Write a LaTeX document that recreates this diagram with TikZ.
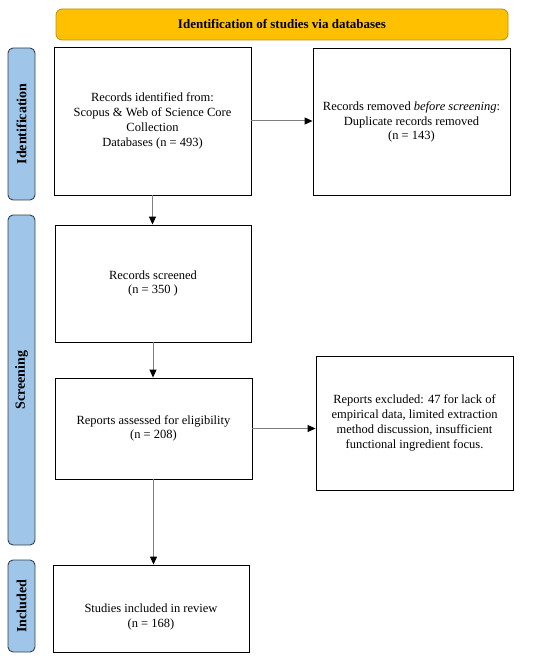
\documentclass[tikz,border=0pt]{standalone}
\usepackage{fontspec}
\setmainfont{Liberation Serif}
\usetikzlibrary{arrows.meta}
\definecolor{hdrfill}{HTML}{FFC000}
\definecolor{hdrdraw}{HTML}{B8900A}
\definecolor{tabfill}{HTML}{9FC5E8}
\definecolor{tabdraw}{HTML}{33414F}
\definecolor{arrgray}{HTML}{7F7F7F}
\begin{document}
\begin{tikzpicture}[x=1pt,y=-1pt,
  box/.style={draw=black, line width=0.9pt, fill=white, inner sep=0pt, align=center, font=\fontsize{12.5}{14.8}\selectfont},
  tab/.style={draw=tabdraw, line width=0.9pt, fill=tabfill, rounded corners=5pt, inner sep=0pt, minimum width=27pt},
  tabtext/.style={rotate=90, font=\bfseries\fontsize{14}{16}\selectfont},
  hdr/.style={draw=hdrdraw, line width=0.8pt, fill=hdrfill, rounded corners=6pt, inner sep=0pt, font=\bfseries\fontsize{13}{15}\selectfont},
  arr/.style={draw=arrgray, line width=1pt, -{Triangle[length=8pt,width=7pt,fill=black,color=black]}}
]
\useasboundingbox (0,0) rectangle (550,660);

% header
\node[hdr, minimum width=452pt, minimum height=31pt] (hdr) at (282,24.5) {Identification of studies via databases};

% side tabs
\node[tab, minimum height=152pt] (tid) at (21.5,124) {};
\node[tabtext] (tidt) at (tid.center) {Identification};
\node[tab, minimum height=330pt] (tsc) at (21.5,380) {};
\node[tabtext] (tsct) at (tsc.center) {Screening};
\node[tab, minimum height=92pt] (tin) at (21.5,606) {};
\node[tabtext] (tint) at (tin.center) {Included};

% boxes
\node[box, minimum width=197pt, minimum height=148pt] (b1) at (152.5,121)
  {Records identified from:\\ Scopus \& Web of Science Core\\ Collection\\ Databases (n = 493)};
\node[box, minimum width=197pt, minimum height=147pt] (b2) at (411.5,122)
  {Records removed \textit{before screening}:\\ Duplicate records removed\\ (n = 143)};
\node[box, minimum width=196pt, minimum height=117pt] (b3) at (153,283.5)
  {Records screened\\ (n = 350 )};
\node[box, minimum width=197pt, minimum height=101pt] (b4) at (153.5,428.5)
  {Reports assessed for eligibility\\ (n = 208)};
\node[box, minimum width=197pt, minimum height=134pt] (b5) at (414.5,423)
  {Reports excluded: 47 for lack of\\ empirical data, limited extraction\\ method discussion, insufficient\\ functional ingredient focus.};
\node[box, minimum width=196pt, minimum height=87pt] (b6) at (151,608.5)
  {\rule{0pt}{25pt}Studies included in review\\ (n = 168)};

% connectors
\draw[arr] (b1.east) -- (b1.east -| b2.west);
\draw[arr] (b1.south) -- (b1.south |- b3.north);
\draw[arr] (b3.south) -- (b3.south |- b4.north);
\draw[arr] (b4.east) -- (b4.east -| b5.west);
\draw[arr] (b4.south) -- (b4.south |- b6.north);
\end{tikzpicture}
\end{document}
